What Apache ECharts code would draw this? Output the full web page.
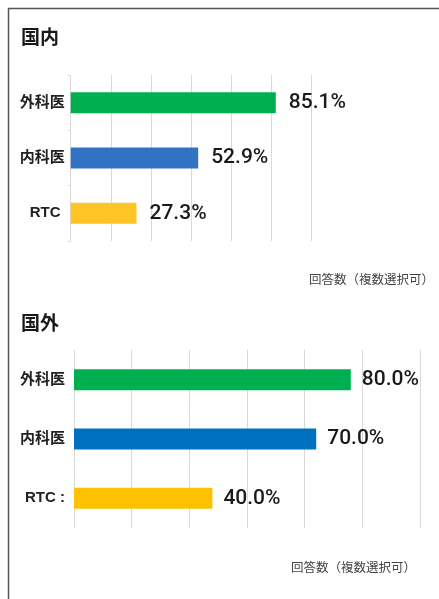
<!DOCTYPE html>
<html>
<head>
<meta charset="utf-8">
<script src="https://cdn.jsdelivr.net/npm/echarts@6/dist/echarts.min.js"></script>
<style>
  html, body { margin: 0; padding: 0; background: #fff; }
  #chart { width: 439px; height: 599px; }
</style>
</head>
<body>
<div id="chart"></div>
<script>
// Respondent groups (top to bottom)
const categories = ['外科医', '内科医', 'RTC '];
const categoriesAbroad = ['外科医', '内科医', 'RTC :'];

// Share of respondents (%)
const domesticValues = [85.1, 52.9, 27.3];
const abroadValues = [80.0, 70.0, 40.0];

const domesticColors = ['#00B050', '#3272C3', '#FFC425'];
const abroadColors = ['#00B050', '#0070C0', '#FFC000'];

const panelTitles = ['国内', '国外'];
const footnote = '回答数（複数選択可）';

const FONT = '"Liberation Sans", "Noto Sans CJK JP", sans-serif';
const CJK = '"Noto Sans CJK JP", sans-serif';
const NUM = 'Roboto, "Noto Sans", sans-serif';

function valueAxis(gridIndex) {
  return {
    type: 'value', gridIndex: gridIndex,
    min: 0, max: 100, interval: 100 / 6,
    axisLabel: { show: false },
    axisLine: { show: false },
    axisTick: { show: false },
    splitLine: { lineStyle: { color: '#d9d9d9', width: 1 } }
  };
}

function categoryAxis(gridIndex, data, margin, ticks) {
  return {
    type: 'category', gridIndex: gridIndex, data: data, inverse: true,
    axisLine: { show: false },
    axisTick: { show: ticks, length: 3, lineStyle: { color: '#d9d9d9' } },
    axisLabel: {
      margin: margin, fontFamily: FONT, fontSize: 15, fontWeight: 'bold', color: '#222'
    }
  };
}

function barSeries(idx, values, colors, distance) {
  return {
    type: 'bar', xAxisIndex: idx, yAxisIndex: idx,
    barWidth: 21,
    data: values.map((v, i) => ({ value: v, itemStyle: { color: colors[i] } })),
    label: {
      show: true, position: 'right', distance: distance,
      fontFamily: NUM, fontSize: 21, fontWeight: 500, color: '#1a1a1a',
      formatter: p => p.value.toFixed(1) + '%'
    },
    animation: false
  };
}

const chart = echarts.init(document.getElementById('chart'), null, { renderer: 'canvas' });

chart.setOption({
  backgroundColor: '#fff',
  animation: false,
  title: [
    { text: panelTitles[0], left: 16, top: 22,
      textStyle: { fontFamily: CJK, fontSize: 19, fontWeight: 'bold', color: '#1a1a1a' } },
    { text: panelTitles[1], left: 16, top: 308,
      textStyle: { fontFamily: CJK, fontSize: 19, fontWeight: 'bold', color: '#1a1a1a' } }
  ],
  grid: [
    { left: 70.7, width: 241, top: 75, height: 166 },
    { left: 74, width: 346, top: 350, height: 178 }
  ],
  xAxis: [valueAxis(0), valueAxis(1)],
  yAxis: [
    categoryAxis(0, categories, 6, true),
    categoryAxis(1, categoriesAbroad, 9, false)
  ],
  series: [
    barSeries(0, domesticValues, domesticColors, 13),
    barSeries(1, abroadValues, abroadColors, 11)
  ],
  graphic: [
    // frame lines along the top and left edge
    { type: 'line', shape: { x1: 8, y1: 8.5, x2: 439, y2: 8.5 },
      style: { stroke: '#555', lineWidth: 1.5 } },
    { type: 'line', shape: { x1: 8.5, y1: 8, x2: 8.5, y2: 599 },
      style: { stroke: '#555', lineWidth: 1.5 } },
    // response notes under each panel
    { type: 'text', right: 5, top: 273,
      style: { text: footnote, fontFamily: CJK, fontSize: 12.5, fill: '#444' } },
    { type: 'text', right: 23, top: 561,
      style: { text: footnote, fontFamily: CJK, fontSize: 12.5, fill: '#444' } }
  ]
});
</script>
</body>
</html>
